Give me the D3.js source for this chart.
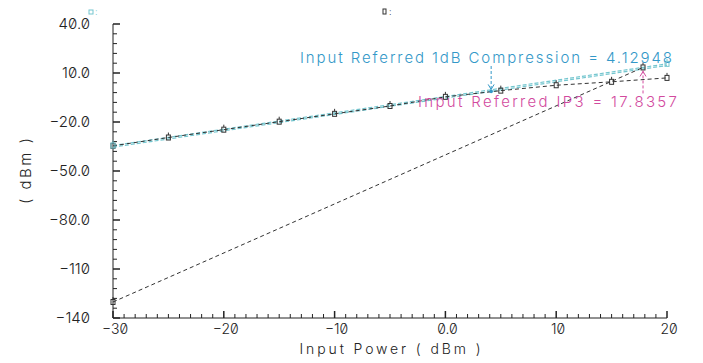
<!DOCTYPE html>
<html>
<head>
<meta charset="utf-8">
<script src="https://cdn.jsdelivr.net/npm/d3@7"></script>
<style>
  body { margin: 0; background: #fff; }
  svg text { font-family: Inter, "DejaVu Sans", sans-serif; font-weight: 300; font-feature-settings: "zero" 1; }
</style>
</head>
<body>
<svg id="chart" width="703" height="363"></svg>
<script>
// data
const inputPower = [-30, -25, -20, -15, -10, -5, 0, 5, 10, 15, 20];
const fundamental = [-34.6, -29.5, -24.7, -19.8, -15.0, -10.2, -4.6, -0.8, 2.5, 4.6, 7.0];

// first order extrapolation and the 1dB-down line
const linX = [-30, 20];
const linY = [-34.4, 15.6];
const lin1dbY = [-35.4, 14.6];

// third order extrapolation
const im3X = [-30, 17.8357];
const im3Y = [-130.2, 13.4];

const comp1dB = { x: 4.12948, y: -1.27 };
const ip3 = { x: 17.8357, y: 13.4 };

const xTicks = [-30, -20, -10, 0, 10, 20];
const xTickLabels = ["\u221230", "\u221220", "\u221210", "0.0", "10", "20"];
const yTicks = [40, 10, -20, -50, -80, -110, -140];
const yTickLabels = ["40.0", "10.0", "\u221220.0", "\u221250.0", "\u221280.0", "\u2212110", "\u2212140"];

const svg = d3.select("#chart");
const x = d3.scaleLinear().domain([-30, 20]).range([113, 667]);
const y = d3.scaleLinear().domain([-140, 40]).range([318, 24]);

const axisColor = "#222";
const cyan = "#74c6cf";
const blue = "#3398c8";
const magenta = "#d24a9e";

// axes
const g = svg.append("g").attr("stroke", axisColor).attr("stroke-width", 1);
g.append("line").attr("x1", x(-30)).attr("x2", x(-30)).attr("y1", y(40)).attr("y2", y(-140));
g.append("line").attr("x1", x(-30)).attr("x2", x(20)).attr("y1", y(-140)).attr("y2", y(-140));

// y ticks: major every 30, minor every 6
d3.range(-140, 40.1, 6).forEach((v) => {
  const major = yTicks.includes(v);
  g.append("line")
    .attr("x1", x(-30)).attr("x2", x(-30) + (major ? 7 : 4))
    .attr("y1", y(v)).attr("y2", y(v))
    .attr("stroke-width", major ? 1.5 : 1);
});
// x ticks: major every 10, minor every 1
d3.range(-30, 20.1, 1).forEach((v) => {
  const major = xTicks.includes(v);
  g.append("line")
    .attr("x1", x(v)).attr("x2", x(v))
    .attr("y1", y(-140)).attr("y2", y(-140) - (major ? 7 : 4))
    .attr("stroke-width", major ? 1.5 : 1);
});

svg.append("g").selectAll("text").data(yTicks).join("text")
  .attr("x", 90).attr("y", (d) => y(d) + 5)
  .attr("text-anchor", "end").attr("font-size", 15).attr("fill", "#222")
  .text((d, i) => yTickLabels[i]);

svg.append("g").selectAll("text").data(xTicks).join("text")
  .attr("x", (d) => x(d) + 2).attr("y", y(-140) + 16)
  .attr("text-anchor", "middle").attr("font-size", 14).attr("fill", "#222")
  .text((d, i) => xTickLabels[i]);

svg.append("text")
  .attr("x", 390).attr("y", 354).attr("text-anchor", "middle")
  .attr("font-size", 14).attr("fill", "#222")
  .attr("textLength", 181).attr("lengthAdjust", "spacing")
  .text("Input Power ( dBm )");

svg.append("text")
  .attr("transform", `translate(31, 171) rotate(-90)`)
  .attr("text-anchor", "middle").attr("font-size", 15).attr("fill", "#222")
  .attr("textLength", 66).attr("lengthAdjust", "spacing")
  .text("( dBm )");

const line = d3.line().x((d) => x(d[0])).y((d) => y(d[1]));

// cyan extrapolation lines
svg.append("path").datum(d3.zip(linX, linY)).attr("d", line)
  .attr("fill", "none").attr("stroke", cyan).attr("stroke-width", 1.2).attr("stroke-dasharray", "4,2");
svg.append("path").datum(d3.zip(linX, lin1dbY)).attr("d", line)
  .attr("fill", "none").attr("stroke", cyan).attr("stroke-width", 1.2).attr("stroke-dasharray", "4,2");

// third order line
svg.append("path").datum(d3.zip(im3X, im3Y)).attr("d", line)
  .attr("fill", "none").attr("stroke", "#333").attr("stroke-width", 1).attr("stroke-dasharray", "4,3");

// fundamental
svg.append("path").datum(d3.zip(inputPower, fundamental)).attr("d", line)
  .attr("fill", "none").attr("stroke", "#333").attr("stroke-width", 1).attr("stroke-dasharray", "4,3");

function marker(px, py, color) {
  const m = svg.append("g").attr("stroke", color).attr("fill", "none");
  m.append("rect").attr("x", px - 2).attr("y", py - 2.5).attr("width", 4).attr("height", 5).attr("stroke-width", 1);
  m.append("line").attr("x1", px).attr("x2", px).attr("y1", py - 5).attr("y2", py - 2.5);
}
inputPower.forEach((v, i) => marker(x(v), y(fundamental[i]), "#333"));
marker(x(im3X[0]), y(im3Y[0]), "#333");
marker(x(linX[0]), y(linY[0]), cyan);
marker(x(linX[1]), y(linY[1]), cyan);
marker(x(ip3.x), y(ip3.y), "#333");

// 1dB compression annotation
const cx = x(comp1dB.x), cy = y(comp1dB.y);
svg.append("line").attr("x1", cx).attr("x2", cx).attr("y1", 66).attr("y2", cy - 1)
  .attr("stroke", blue).attr("stroke-dasharray", "3,2");
svg.append("path").attr("d", `M${cx - 3},${cy - 7} L${cx},${cy - 2} L${cx + 3},${cy - 7}`)
  .attr("fill", "none").attr("stroke", blue);
svg.append("circle").attr("cx", cx).attr("cy", cy).attr("r", 1.8).attr("fill", blue);
svg.append("text").attr("x", 672).attr("y", 63).attr("text-anchor", "end")
  .attr("font-size", 15).attr("fill", blue)
  .attr("textLength", 372).attr("lengthAdjust", "spacing")
  .text("Input Referred 1dB Compression = 4.12948");

// IP3 annotation
const ix = x(ip3.x), iy = y(ip3.y);
svg.append("line").attr("x1", ix).attr("x2", ix).attr("y1", iy + 3).attr("y2", 95)
  .attr("stroke", magenta).attr("stroke-dasharray", "3,2");
svg.append("path").attr("d", `M${ix - 3},${iy + 9} L${ix},${iy + 4} L${ix + 3},${iy + 9}`)
  .attr("fill", "none").attr("stroke", magenta);
svg.append("text").attr("x", 677).attr("y", 107).attr("text-anchor", "end")
  .attr("font-size", 15).attr("fill", magenta)
  .attr("textLength", 259).attr("lengthAdjust", "spacing")
  .text("Input Referred IP3 = 17.8357");

// legend fragments at the top
svg.append("rect").attr("x", 89).attr("y", 10).attr("width", 4).attr("height", 4)
  .attr("fill", "none").attr("stroke", cyan);
svg.append("text").attr("x", 95).attr("y", 15).attr("font-size", 9).attr("fill", cyan).text(":");
svg.append("rect").attr("x", 383).attr("y", 9).attr("width", 3).attr("height", 5)
  .attr("fill", "none").attr("stroke", "#333");
svg.append("text").attr("x", 389).attr("y", 15).attr("font-size", 9).attr("fill", "#333").text(":");
</script>
</body>
</html>
